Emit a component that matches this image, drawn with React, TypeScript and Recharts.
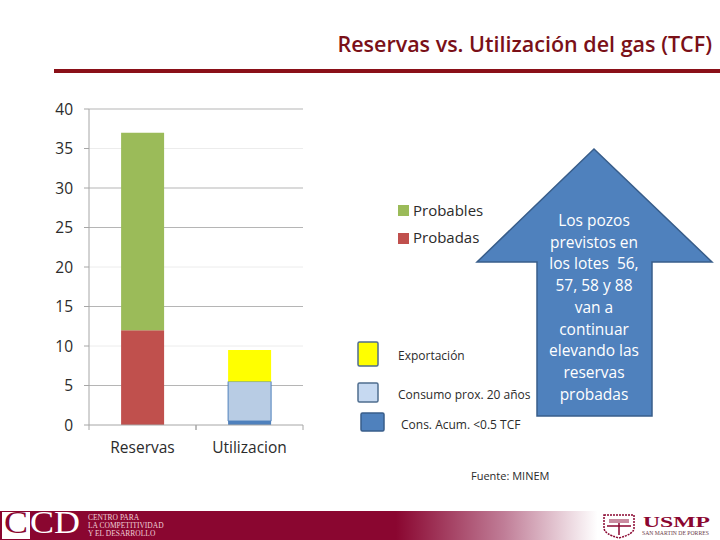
import {
  Bar,
  BarChart,
  CartesianGrid,
  XAxis,
  YAxis,
} from "recharts";

const categories = ["Reservas", "Utilizacion"];
const probadas = [12, 0];
const probables = [25, 0];
const acumulado = [0, 0.5];
const consumo = [0, 5];
const exportacion = [0, 4];
const yTicks = [0, 5, 10, 15, 20, 25, 30, 35, 40];
const darkGrid = [5, 15, 25, 30, 40];
const lightGrid = [10, 20, 35];
const arrowLines = [
  "Los pozos",
  "previstos en",
  "los lotes  56,",
  "57, 58 y 88",
  "van a",
  "continuar",
  "elevando las",
  "reservas",
  "probadas",
];

const data = categories.map((name, i) => ({
  name,
  probadas: probadas[i],
  probables: probables[i],
  acumulado: acumulado[i],
  consumo: consumo[i],
  exportacion: exportacion[i],
}));

const FONT = "'Open Sans', sans-serif";
const SERIF = "'Liberation Serif', serif";
const MAROON = "#8a0630";
const INK = "#2b2b2b";
const BAND = 107;

const CategoryTick = (props: any) => {
  const { x, y, payload } = props;
  return (
    <g>
      <line x1={x - BAND / 2} x2={x - BAND / 2} y1={y - 8} y2={y - 3} stroke="#a6a6a6" />
      <line x1={x + BAND / 2} x2={x + BAND / 2} y1={y - 8} y2={y - 3} stroke="#a6a6a6" />
      <text x={x} y={y + 20} textAnchor="middle" fontSize={15.5} fill={INK} fontFamily={FONT}>
        {payload.value}
      </text>
    </g>
  );
};

const Swatch = (props: { x: number; y: number; w: number; h: number; fill: string; stroke: string }) => (
  <rect
    x={props.x}
    y={props.y}
    width={props.w}
    height={props.h}
    rx={1.5}
    fill={props.fill}
    stroke={props.stroke}
    strokeWidth={1.5}
  />
);

const Overlay = () => (
  <svg width={720} height={540} style={{ position: "absolute", left: 0, top: 0 }}>
    <defs>
      <linearGradient id="band" x1="0" x2="1" y1="0" y2="0">
        <stop offset="0" stopColor={MAROON} />
        <stop offset="0.55" stopColor={MAROON} />
        <stop offset="0.7" stopColor="#c07d97" />
        <stop offset="0.83" stopColor="#ffffff" />
        <stop offset="1" stopColor="#ffffff" />
      </linearGradient>
    </defs>

    <text x={712} y={52} textAnchor="end" fontSize={21.5} fontWeight={600} fill="#7a1018" fontFamily={FONT}>
      Reservas vs. Utilización del gas (TCF)
    </text>
    <rect x={54} y={69} width={666} height={4} fill="#8a1018" />

    <rect x={398} y={205} width={11} height={11} fill="#9bbb59" />
    <rect x={398} y={233} width={11} height={11} fill="#c0504d" />
    <text x={413} y={216} fontSize={15} fill={INK} fontFamily={FONT}>Probables</text>
    <text x={413} y={243} fontSize={15} fill={INK} fontFamily={FONT}>Probadas</text>

    <Swatch x={358} y={342} w={20} h={24} fill="#ffff00" stroke="#4f6d8f" />
    <Swatch x={358} y={383} w={20} h={19} fill="#c6d9f1" stroke="#4f6d8f" />
    <Swatch x={361} y={413} w={23} h={18} fill="#4f81bd" stroke="#385d8a" />
    <text x={398} y={360} fontSize={12} fill={INK} fontFamily={FONT}>Exportación</text>
    <text x={398} y={399} fontSize={12} fill={INK} fontFamily={FONT}>Consumo prox. 20 años</text>
    <text x={401} y={429} fontSize={12} fill={INK} fontFamily={FONT}>Cons. Acum. &lt;0.5 TCF</text>
    <text x={471} y={480} fontSize={11} fill={INK} fontFamily={FONT}>Fuente: MINEM</text>

    <polygon
      points="594,149 712,262 652,262 652,416 537,416 537,262 477,262"
      fill="#4f81bd"
      stroke="#385d8a"
      strokeWidth={1.5}
    />
    {arrowLines.map((line, i) => (
      <text
        key={line}
        x={594}
        y={226 + i * 21.7}
        textAnchor="middle"
        fontSize={15.5}
        fill="#fff"
        xmlSpace="preserve"
        fontFamily={FONT}
      >
        {line}
      </text>
    ))}

    <rect x={0} y={511} width={720} height={29} fill="url(#band)" />
    <rect x={2} y={512} width={28} height={27} fill="#fff" />
    <text x={4} y={533} fontSize={31} fill={MAROON} fontFamily={SERIF} textLength={24} lengthAdjust="spacingAndGlyphs">C</text>
    <text x={30} y={533} fontSize={31} fill="#fff" fontFamily={SERIF} textLength={50} lengthAdjust="spacingAndGlyphs">CD</text>
    <g fontSize={7.5} fill="#f0d0d8" fontFamily={SERIF}>
      <text x={88} y={520}>CENTRO PARA</text>
      <text x={88} y={528}>LA COMPETITIVIDAD</text>
      <text x={88} y={536}>Y EL DESARROLLO</text>
    </g>

    <path
      d="M604 515 H634 V528 Q634 534 619 538 Q604 534 604 528 Z"
      fill="#fff"
      stroke={MAROON}
      strokeWidth={1.5}
      strokeDasharray="2 1"
    />
    <path d="M619 519 V535 M607 526 H631" stroke={MAROON} strokeWidth={1.5} />
    <rect x={609} y={519} width={20} height={4} fill="#c98ba0" />
    <text x={643} y={527} fontSize={15} fontWeight={700} fill={MAROON} fontFamily={SERIF} textLength={67} lengthAdjust="spacingAndGlyphs">USMP</text>
    <text x={642} y={535} fontSize={5.7} fill="#6b3a48" fontFamily={SERIF}>SAN MARTIN DE PORRES</text>
  </svg>
);

export default function App() {
  return (
    <div style={{ position: "absolute", left: 0, top: 0, width: 720, height: 540, background: "#fff" }}>
      <BarChart
        width={720}
        height={540}
        data={data}
        barCategoryGap="30%"
        margin={{ top: 109, right: 417, bottom: 90, left: 59 }}
      >
        <CartesianGrid vertical={false} horizontalValues={darkGrid} stroke="#b5b5b5" />
        <CartesianGrid vertical={false} horizontalValues={lightGrid} stroke="#ececec" />
        <XAxis
          dataKey="name"
          height={25}
          tickLine={false}
          axisLine={{ stroke: "#a6a6a6" }}
          tick={<CategoryTick />}
        />
        <YAxis
          width={30}
          domain={[0, 40]}
          ticks={yTicks}
          interval={0}
          tickLine={{ stroke: "#a6a6a6" }}
          tickSize={5}
          tickMargin={11}
          axisLine={{ stroke: "#a6a6a6" }}
          tick={{ fontSize: 15.5, fill: INK, fontFamily: FONT }}
        />
        <Bar dataKey="probadas" stackId="a" fill="#c0504d" isAnimationActive={false} />
        <Bar dataKey="probables" stackId="a" fill="#9bbb59" isAnimationActive={false} />
        <Bar dataKey="acumulado" stackId="a" fill="#4f81bd" isAnimationActive={false} />
        <Bar dataKey="consumo" stackId="a" fill="#b8cce4" stroke="#4f81bd" isAnimationActive={false} />
        <Bar dataKey="exportacion" stackId="a" fill="#ffff00" isAnimationActive={false} />
      </BarChart>
      <Overlay />
    </div>
  );
}
